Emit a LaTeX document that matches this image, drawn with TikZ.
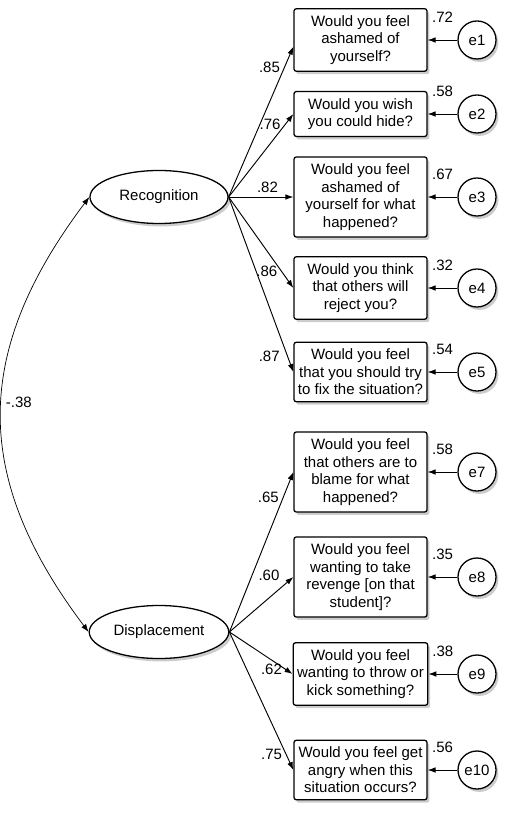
\documentclass[tikz,border=0pt]{standalone}
\usepackage{fontspec}
\setmainfont{Liberation Sans}
\usepackage{tikz}
\usetikzlibrary{
  arrows.meta,
  shapes.geometric,
  shadows,
  positioning
}
\tikzset{
  >={Latex[length=2.4mm,width=1.7mm]},
  line join=round,
  every picture/.style={line width=0.8pt},
  shadowed/.style={drop shadow={opacity=0.4, shadow xshift=2pt, shadow yshift=-2.5pt}},
  itembox/.style={draw, line width=1.1pt, rounded corners=2pt, fill=white, shadowed, minimum width=3.99cm, align=center, inner ysep=0.2cm},
  latent/.style={draw, ellipse, line width=1.1pt, fill=white, shadowed, minimum width=4.14cm, minimum height=1.59cm},
  errcircle/.style={draw, circle, line width=1.1pt, fill=white, shadowed, minimum size=1.14cm, inner sep=0pt},
  arrow/.style={->, line width=0.8pt}
}

\begin{document}
\begin{tikzpicture}[x=0.03cm, y=0.03cm, font=\fontsize{12.8}{15}\selectfont]
\useasboundingbox (0,0) rectangle (511,-823);

% 잠재변수
\node[latent] (rec) at (159,-197) {Recognition};
\node[latent] (dis) at (159,-632) {Displacement};

% 관측변수
\node[itembox] (q1) at (360.5,-40) {Would you feel\\ashamed of\\yourself?};
\node[itembox] (q2) at (360.5,-114) {Would you wish\\you could hide?};
\node[itembox] (q3) at (360.5,-197) {Would you feel\\ashamed of\\yourself for what\\happened?};
\node[itembox] (q4) at (360.5,-288) {Would you think\\that others will\\reject you?};
\node[itembox] (q5) at (360.5,-372) {Would you feel\\that you should try\\to fix the situation?};
\node[itembox] (q7) at (360.5,-472) {Would you feel\\that others are to\\blame for what\\happened?};
\node[itembox] (q8) at (360.5,-577) {Would you feel\\wanting to take\\revenge [on that\\student]?};
\node[itembox] (q9) at (360.5,-674) {Would you feel\\wanting to throw or\\kick something?};
\node[itembox] (q10) at (360.5,-770) {Would you feel get\\angry when this\\situation occurs?};

% 요인부하량
\draw[arrow] (rec.east) -- ([yshift=-0.2cm]q1.west) node[pos=0.86, left] {.85};
\draw[arrow] (rec.east) -- (q2.west) node[pos=0.87, left] {.76};
\draw[arrow] (rec.east) -- (q3.west) node[pos=0.6, above] {.82};
\draw[arrow] (rec.east) -- (q4.west) node[pos=0.82, left] {.86};
\draw[arrow] (rec.east) -- (q5.west) node[pos=0.91, left=3pt] {.87};
\draw[arrow] (dis.east) -- (q7.west) node[pos=0.84, left] {.65};
\draw[arrow] (dis.east) -- (q8.west) node[pos=0.85, above left] {.60};
\draw[arrow] (dis.east) -- (q9.west) node[pos=0.9, left] {.62};
\draw[arrow] (dis.east) -- (q10.west) node[pos=0.89, left] {.75};

% 오차항
\foreach \i/\y/\r in {1/40/.72, 2/114/.58, 3/197/.67, 4/288/.32, 5/372/.54,
                      7/472/.58, 8/577/.35, 9/674/.38, 10/770/.56}{
  \node[errcircle] (e\i) at (477,-\y) {e\i};
  \draw[arrow] (e\i) -- (q\i) node[midway, above=11pt] {\r};
}

% 상관
\draw[<->, line width=0.6pt] (rec.west) to[out=233, in=127, looseness=1.14]
    node[pos=0.47, right] {-.38} (dis.west);

\end{tikzpicture}
\end{document}
